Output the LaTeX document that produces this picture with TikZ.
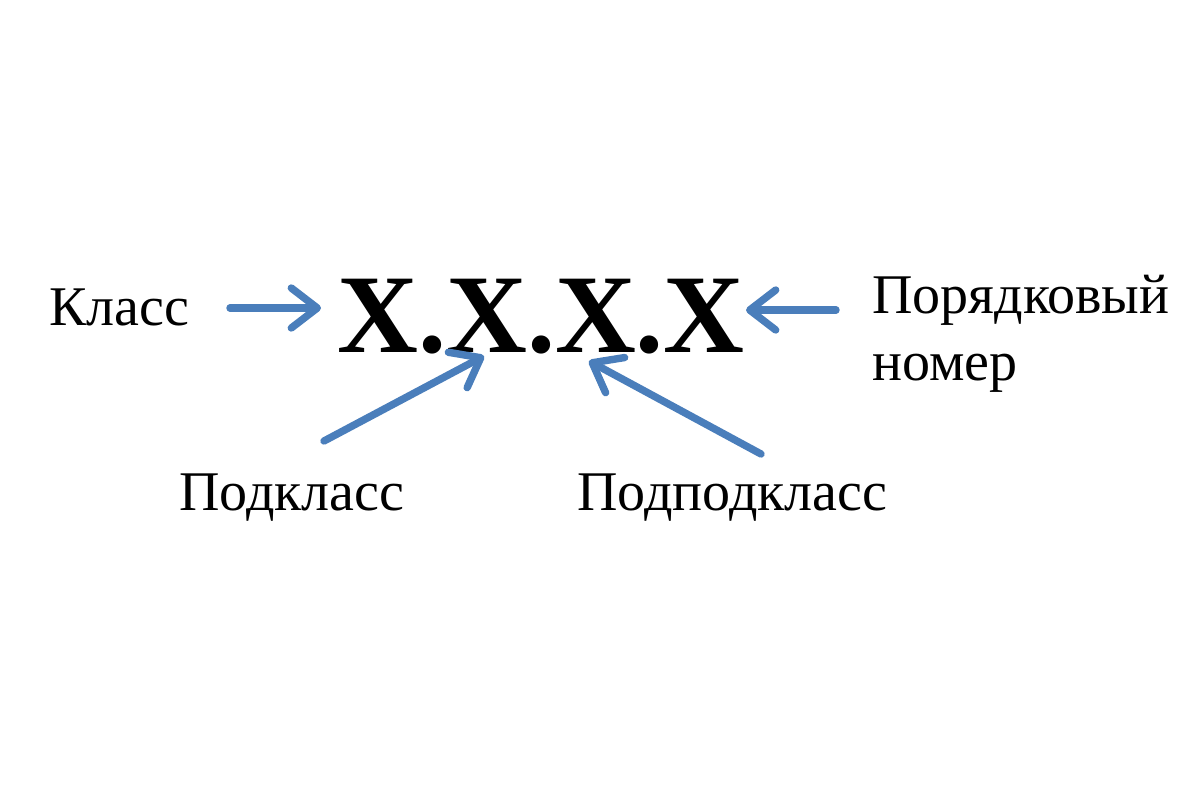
\documentclass[tikz,border=0pt]{standalone}
\usepackage{fontspec}
\setmainfont{Liberation Serif}
\usetikzlibrary{arrows.meta}
\definecolor{arrowblue}{HTML}{4A7EBB}
\begin{document}
\begin{tikzpicture}[x=0.5pt,y=-0.5pt,
  lbl/.style={anchor=base west,inner sep=0pt,font=\fontsize{28}{33.5}\selectfont,align=left},
  code/.style={anchor=base west,inner sep=0pt,font=\fontsize{56}{60}\selectfont\bfseries},
  pointer/.style={draw=arrowblue,line width=3.7pt,line cap=round,
    -{Straight Barb[length=13pt,width=20pt,round]}}]
\useasboundingbox (0,0) rectangle (1200,800);
\node[lbl] (klass) at (49,325) {Класс};
\node[code] (xxxx) at (337,352) {X.X.X.X};
\node[lbl] (poryad) at (872,380) {Порядковый\\номер};
\node[lbl] (podkl) at (179,510) {Подкласс};
\node[lbl] (podpod) at (577,510) {Подподкласс};
\coordinate (a1s) at (230,308);
\coordinate (a1e) at (321,308);
\coordinate (a2s) at (836,310);
\coordinate (a2e) at (746,310);
\coordinate (a3s) at (324,441);
\coordinate (a3e) at (484,356);
\coordinate (a4s) at (761,454);
\coordinate (a4e) at (589,361);
\draw[pointer] (a1s) -- (a1e);
\draw[pointer] (a2s) -- (a2e);
\draw[pointer] (a3s) -- (a3e);
\draw[pointer] (a4s) -- (a4e);
\end{tikzpicture}
\end{document}
